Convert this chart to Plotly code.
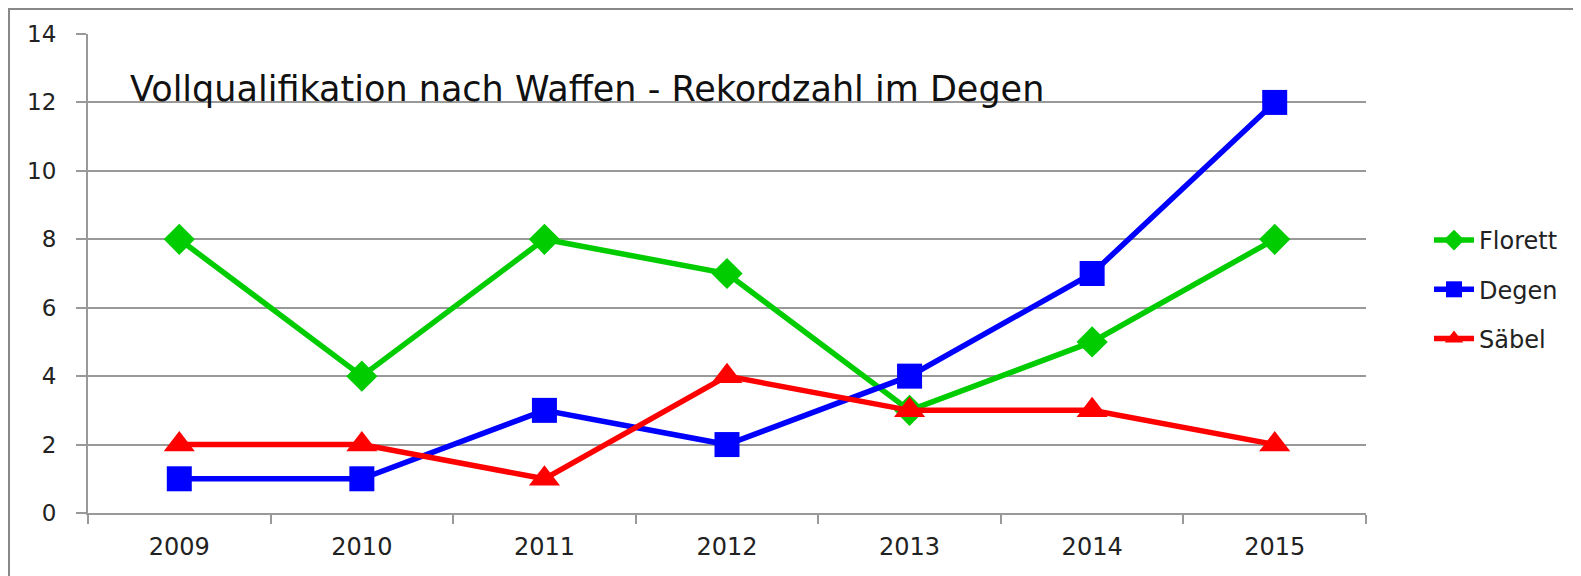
import plotly.graph_objects as go

years = ["2009", "2010", "2011", "2012", "2013", "2014", "2015"]
florett = [8, 4, 8, 7, 3, 5, 8]
degen = [1, 1, 3, 2, 4, 7, 12]
saebel = [2, 2, 1, 4, 3, 3, 2]
title_text = "Vollqualifikation nach Waffen - Rekordzahl im Degen"

FONT = "DejaVu Sans"
# page has an 8px body margin, so figure coordinates = page coordinates - 8
W, H = 1573, 568
L, R, T, B = 80, 1358, 26, 505
pw, ph = R - L, B - T

def px(x):
    return (x - L) / pw

def py(y):
    return (B - y) / ph

fig = go.Figure()
series = [
    ("Florett", florett, "#00CC00", "diamond", 24),
    ("Degen", degen, "#0000FF", "square", 25),
    ("Säbel", saebel, "#FF0000", "triangle-up", 27),
]
for name, vals, col, sym, sz in series:
    fig.add_trace(go.Scatter(
        x=years, y=vals, name=name, mode="lines+markers",
        line=dict(color=col, width=5.5),
        marker=dict(symbol=sym, size=sz, color=col),
        legendgroup=name,
    ))

TXT = "#222222"
fig.update_layout(
    width=W, height=H,
    margin=dict(l=L, r=W - R, t=T, b=H - B, pad=0),
    paper_bgcolor="white", plot_bgcolor="white",
    font=dict(family=FONT, size=22, color=TXT),
    showlegend=True,
    legend=dict(
        x=px(1421), y=py(210), xanchor="left", yanchor="top",
        font=dict(family=FONT, size=24, color=TXT),
        tracegroupgap=15, itemwidth=40,
        bgcolor="rgba(0,0,0,0)",
    ),
    xaxis=dict(
        type="category", range=[-0.5, 6.5], automargin=False,
        showline=True, linecolor="#999999", linewidth=2,
        ticks="outside", tickson="boundaries", ticklen=9, tickcolor="#999999", tickwidth=2,
        showgrid=False, ticklabelstandoff=11,
        tickfont=dict(family=FONT, size=24, color=TXT),
    ),
    yaxis=dict(
        range=[0, 14], dtick=2, tick0=0, automargin=False,
        showline=True, linecolor="#999999", linewidth=2,
        ticks="outside", ticklen=10, tickcolor="#999999", tickwidth=2,
        showgrid=True, gridcolor="#999999", gridwidth=1.5,
        zeroline=False, ticklabelstandoff=15,
        tickfont=dict(family=FONT, size=23, color=TXT),
    ),
    annotations=[dict(
        text=title_text, x=px(120), y=py(81), xref="paper", yref="paper",
        xanchor="left", yanchor="middle", showarrow=False,
        font=dict(family=FONT, size=35, color="#111111"),
    )],
    shapes=[
        dict(type="line", xref="paper", yref="paper", x0=px(0), x1=px(1600), y0=py(1), y1=py(1),
             line=dict(color="#888888", width=2)),
        dict(type="line", xref="paper", yref="paper", x0=px(1), x1=px(1), y0=py(1), y1=py(600),
             line=dict(color="#888888", width=2)),
    ],
)

fig.write_html("out.html")
